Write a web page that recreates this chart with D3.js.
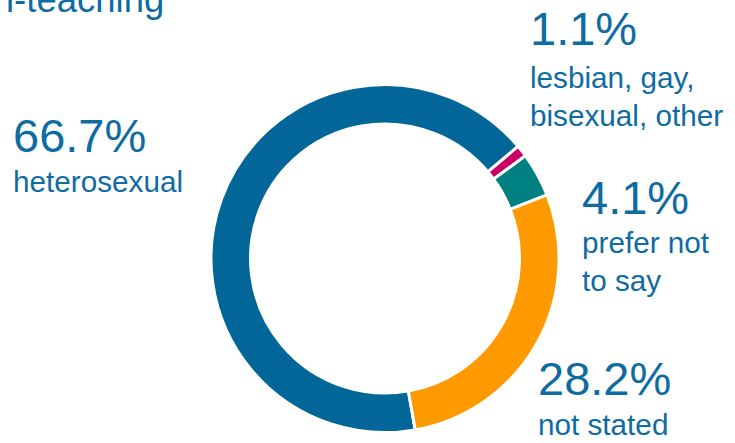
<!DOCTYPE html>
<html>
<head>
<meta charset="utf-8">
<script src="https://cdn.jsdelivr.net/npm/d3@7"></script>
<style>
  html, body { margin: 0; padding: 0; background: #ffffff; }
  svg { display: block; }
  text { font-family: "Liberation Sans", Arial, sans-serif; fill: #0e6ca2; }
</style>
</head>
<body>
<svg id="chart" width="735" height="443"></svg>
<script>
// ---- data ----
const categories = ["heterosexual", "lesbian, gay, bisexual, other", "prefer not to say", "not stated"];
const values = [66.7, 1.1, 4.1, 28.2];
const valueLabels = ["66.7%", "1.1%", "4.1%", "28.2%"];
const labelLines = [["heterosexual"], ["lesbian, gay,", "bisexual, other"], ["prefer not", "to say"], ["not stated"]];
const titleText = "l-teaching";

// ---- layout / style ----
const colors = ["#026699", "#cc0066", "#008080", "#ff9900"];
const labelPos = [
  { x: 13, y: 152, lineY: [192] },
  { x: 530, y: 45, lineY: [88, 126] },
  { x: 582, y: 214, lineY: [253, 291] },
  { x: 538, y: 395, lineY: [435] }
];
const cx = 385, cy = 258.5, outerR = 174, innerR = 134.5;
const startDeg = 170;

const svg = d3.select("#chart");

svg.append("text")
  .attr("x", 6).attr("y", 12)
  .style("font-size", "36.5px")
  .text(titleText);

const pie = d3.pie()
  .sort(null)
  .value(d => d)
  .startAngle(startDeg * Math.PI / 180)
  .endAngle(startDeg * Math.PI / 180 + 2 * Math.PI);

const arc = d3.arc().innerRadius(innerR).outerRadius(outerR);

const g = svg.append("g").attr("transform", `translate(${cx},${cy})`);
g.selectAll("path")
  .data(pie(values))
  .join("path")
  .attr("d", arc)
  .attr("fill", (d, i) => colors[i])
  .attr("stroke", "#ffffff")
  .attr("stroke-width", 3)
  .attr("stroke-linejoin", "miter");

const labels = svg.selectAll("g.label")
  .data(categories)
  .join("g")
  .attr("class", "label");

labels.append("text")
  .attr("x", (d, i) => labelPos[i].x)
  .attr("y", (d, i) => labelPos[i].y)
  .style("font-size", "47px")
  .text((d, i) => valueLabels[i]);

labels.each(function(d, i) {
  const sel = d3.select(this);
  labelLines[i].forEach((line, j) => {
    sel.append("text")
      .attr("x", labelPos[i].x)
      .attr("y", labelPos[i].lineY[j])
      .style("font-size", "29.7px")
      .text(line);
  });
});
</script>
</body>
</html>
